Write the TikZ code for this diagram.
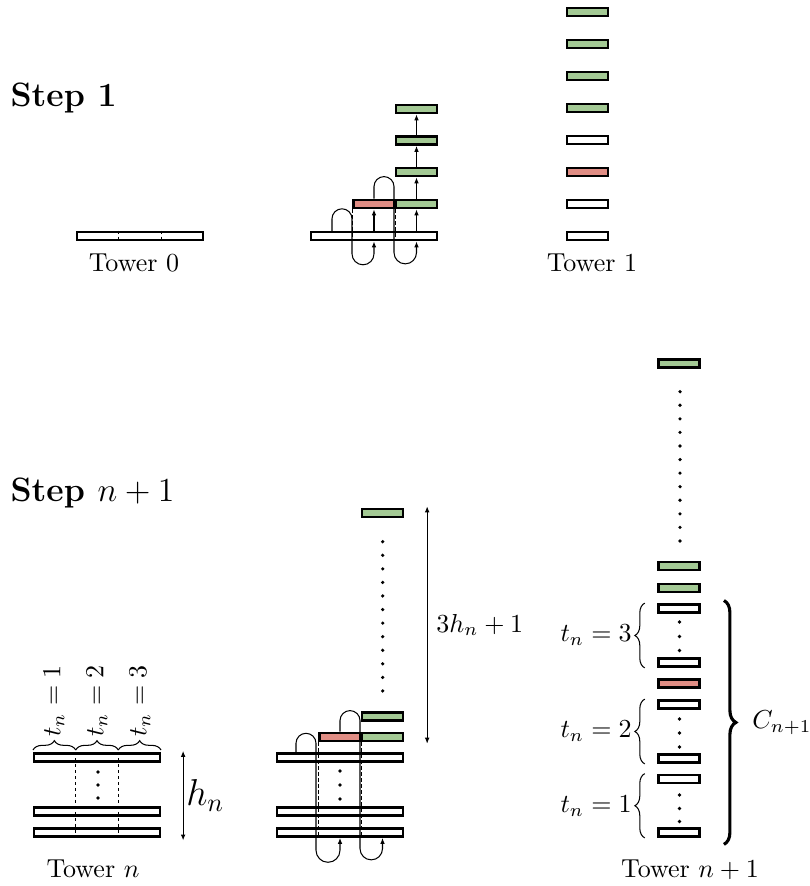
\documentclass[tikz,border=0pt]{standalone}
\usepackage{fontspec}
\usetikzlibrary{calc, arrows.meta, decorations.pathreplacing}
\definecolor{barred}{RGB}{224,141,132}
\definecolor{bargreen}{RGB}{163,201,148}

\begin{document}
\begin{tikzpicture}[x = 0.3846pt, y = -0.3846pt, >= {Latex[length = 2.3pt, width = 1.8pt]},
  bar/.style = {draw, line width = 0.95pt, fill = white, minimum width = 15.6pt,
    minimum height = 3.2pt, inner sep = 0pt},
  widebar/.style = {bar, minimum width = 48.3pt},
  redbar/.style = {bar, fill = barred},
  greenbar/.style = {bar, fill = bargreen},
  steplabel/.style = {font = \fontsize{13}{15}\selectfont\bfseries, anchor = base west, inner sep = 0pt},
  tower/.style = {anchor = base},
  lift/.style = {thin, ->},
  cut/.style = {thin, dash pattern = on 1.3pt off 1pt},
  curly/.style = {decorate, decoration = {brace, amplitude = #1}},
  curly/.default = 3.6pt]
  \useasboundingbox (0, 0) rectangle (809, 886);

  % step 1: tower 0
  \node[steplabel] (s1) at (10, 106) {Step 1};
  \node[widebar] (t0) at (140, 236) {};
  \foreach \i in {1, 2}
    \draw[cut] ($(t0.north west)!\i/3!(t0.north east)$) -- ($(t0.south west)!\i/3!(t0.south east)$);
  \node[tower] (lab0) at (134, 271) {Tower 0};

  % cutting and stacking
  \node[widebar] (b0) at (374, 236) {};
  \node[redbar] (r1) at (374, 204) {};
  \node[greenbar] (g1) at (416.5, 204) {};
  \node[greenbar] (g2) at (416.5, 172) {};
  \node[greenbar] (g3) at (416.5, 140.5) {};
  \node[greenbar] (g4) at (416.5, 109) {};
  \foreach \c in {r1.south west, r1.south east}
    \draw[cut] (\c) -- (\c |- b0.south);
  \foreach \b in {r1, g1}
    \draw[lift] (\b |- b0.north) -- (\b.south);
  \foreach \a/\b in {g1/g2, g2/g3, g3/g4}
    \draw[lift] (\a.north) -- (\b.south);
  \coordinate (c1) at (332, 231.8);
  \draw[lift] (c1) -- ++(0, -13) arc[start angle = 180, end angle = 360, radius = 10]
    -- ++(0, 35) arc[start angle = 180, end angle = 0, radius = 11] -- (r1 |- b0.south);
  \draw[lift] (r1.north) -- ++(0, -12) arc[start angle = 180, end angle = 360, radius = 10]
    -- ++(0, 66) arc[start angle = 180, end angle = 0, radius = 11.25] -- (g1 |- b0.south);

  % tower 1
  \foreach \y/\f [count = \i] in {12/bargreen, 44/bargreen, 76/bargreen, 108/bargreen,
    140/white, 172/barred, 204/white, 236/white}
    \node[bar, fill = \f] (a\i) at (587.5, \y) {};
  \node[tower] (lab1) at (592, 271) {Tower 1};

  % step n+1: tower n
  \node[steplabel] (s2) at (10, 501) {Step \scalebox{1.08}{$n+1$}};
  \foreach \y [count = \i] in {757.5, 811.5, 832.5}
    \node[widebar] (n\i) at (97, \y) {};
  \foreach \i in {1, 2}
    \draw[cut] ($(n1.north west)!\i/3!(n1.north east)$) -- ($(n3.south west)!\i/3!(n3.south east)$);
  \foreach \y in {772, 785, 798}
    \fill (98, \y) circle[radius = 1.8];
  \foreach \a/\b/\m [count = \k] in {33/75.7/54, 75.7/118.3/97, 118.3/161/140}{
    \draw[curly] (\a, 750) -- (\b, 750);
    \node[rotate = 90, anchor = west, inner sep = 1.5pt] (tl\k) at (\m, 741) {$t_n = \k$};
  }
  \draw[<->] ([xshift = 8.5pt, yshift = 0.5pt]n1.north east) -- ([xshift = 8.5pt, yshift = -1pt]n3.south east)
    node[midway, right = 0pt, inner sep = 1pt, font = \Large] (hn) {$h_n$};
  \node[tower] (labn) at (93, 877) {Tower $n$};

  % cutting and stacking
  \foreach \y [count = \i] in {757.5, 811.5, 832.5}
    \node[widebar] (m\i) at (340, \y) {};
  \node[redbar] (r2) at (340, 737) {};
  \node[greenbar] (h1) at (382.5, 737) {};
  \node[greenbar] (h2) at (382.5, 716.5) {};
  \node[greenbar] (h3) at (382.5, 513) {};
  \foreach \y in {771, 785, 799}
    \fill (340, \y) circle[radius = 1.8];
  \foreach \k in {0, ..., 11}
    \fill (382.7, 541.7 + 13.57*\k) circle[radius = 1.8];
  \foreach \c in {r2.south west, r2.south east}
    \draw[cut] (\c) -- (\c |- m3.south);
  \coordinate (c2) at (296, 753.3);
  \draw[lift] (c2) -- ++(0, -10) arc[start angle = 180, end angle = 360, radius = 10]
    -- ++(0, 107) arc[start angle = 180, end angle = 0, radius = 12] -- (r2 |- m3.south);
  \draw[lift] (r2.north) -- ++(0, -11) arc[start angle = 180, end angle = 360, radius = 10]
    -- ++(0, 128) arc[start angle = 180, end angle = 0, radius = 11.25] -- (h1 |- m3.south);
  \draw[<->] ([xshift = 8.9pt, yshift = 0.5pt]h3.north east) -- ([xshift = 8.9pt, yshift = -0.5pt]h1.south east)
    node[midway, right = 0pt] (hh) {$3h_n+1$};

  % tower n+1
  \foreach \y/\f [count = \i] in {363.5/bargreen, 566/bargreen, 588/bargreen, 608.5/white,
    662.5/white, 683.5/barred, 704.5/white, 758.5/white, 779/white, 832.5/white}
    \node[bar, fill = \f] (p\i) at (679, \y) {};
  \foreach \k in {0, ..., 11}
    \fill (680, 391.7 + 13.57*\k) circle[radius = 1.8];
  \foreach \y in {622, 636.5, 650.5, 719, 733, 747, 795, 808.5, 821.5}
    \fill (679.5, \y) circle[radius = 1.8];
  \foreach \lo/\hi/\t in {p10/p9/1, p8/p7/2, p5/p4/3}
    \draw[curly = 3.8pt] ([xshift = -4.9pt]\lo.south west) -- ([xshift = -4.9pt]\hi.north west)
      node[midway, left = 3.8pt, inner sep = 1pt] {$t_n = \t$};
  \draw[curly = 4.6pt, line width = 1.2pt] ([xshift = 9pt, yshift = 1pt]p4.north east)
    -- ([xshift = 9pt, yshift = -2.5pt]p10.south east) node[midway, right = 7pt] (cn) {$C_{n+1}$};
  \node[tower] (labn1) at (690, 877) {Tower $n+1$};
\end{tikzpicture}
\end{document}
